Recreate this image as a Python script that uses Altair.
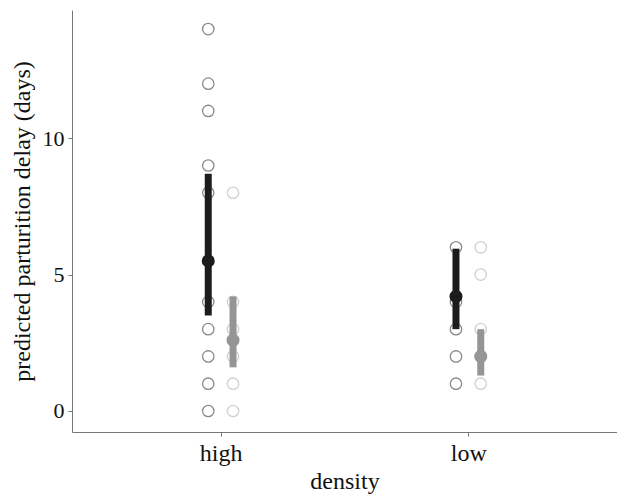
import altair as alt
import pandas as pd

# raw observations
high_black = [14, 12, 11, 9, 8, 4, 3, 2, 1, 0]
high_gray = [8, 4, 3, 2, 1, 0]
low_black = [6, 4, 3, 2, 1]
low_gray = [6, 5, 3, 2, 1]

# model predictions (mean, lower, upper)
densities = ["high", "low"]
series = ["black", "gray"]
pred_mean = {"high": [5.5, 2.6], "low": [4.2, 2.0]}
pred_lo = {"high": [3.5, 1.6], "low": [3.0, 1.3]}
pred_hi = {"high": [8.7, 4.2], "low": [5.95, 3.0]}

pos = {"high": 1, "low": 2}
off = {"black": -0.05, "gray": 0.05}

rows = []
for d, s, vals in [("high", "black", high_black), ("high", "gray", high_gray),
                   ("low", "black", low_black), ("low", "gray", low_gray)]:
    for v in vals:
        rows.append({"density": d, "series": s, "value": v})
pts = pd.DataFrame(rows)
pts["x"] = pts["density"].map(pos) + pts["series"].map(off)

prow = []
for d in densities:
    for i, s in enumerate(series):
        prow.append({"density": d, "series": s, "mean": pred_mean[d][i],
                     "lo": pred_lo[d][i], "hi": pred_hi[d][i]})
pred = pd.DataFrame(prow)
pred["x"] = pred["density"].map(pos) + pred["series"].map(off)

FONT = "Times New Roman, Liberation Serif, serif"

xscale = alt.Scale(domain=[0.4, 2.6])
yscale = alt.Scale(domain=[-0.77, 14.7], nice=False, zero=False)
pt_color = alt.Scale(domain=["black", "gray"], range=["#5a5a5a", "#bdbdbd"])
bar_color = alt.Scale(domain=["black", "gray"], range=["#1c1c1c", "#959595"])

xaxis = alt.Axis(values=[1, 2], labelExpr="datum.value == 1 ? 'high' : 'low'",
                 title="density", grid=False, tickColor="#777", domainColor="#777",
                 labelFontSize=24, titleFontSize=24, labelColor="#111", titleColor="#111",
                 labelFont=FONT, titleFont=FONT,
                 titleFontWeight="normal", tickSize=4, labelPadding=5, titlePadding=4)
yaxis = alt.Axis(values=[0, 5, 10], title="predicted parturition delay (days)", grid=False,
                 tickColor="#777", domainColor="#777", labelFontSize=22, titleFontSize=24,
                 labelColor="#111", titleColor="#111", labelFont=FONT,
                 titleFont=FONT, titleFontWeight="normal", tickSize=4,
                 labelPadding=4, titlePadding=8)

points = alt.Chart(pts).mark_point(shape="circle", filled=False, size=130, strokeWidth=1.3).encode(
    x=alt.X("x:Q", scale=xscale, axis=xaxis),
    y=alt.Y("value:Q", scale=yscale, axis=yaxis),
    color=alt.Color("series:N", scale=pt_color, legend=None),
)

bars = alt.Chart(pred).mark_rule(strokeWidth=7).encode(
    x="x:Q",
    y="lo:Q",
    y2="hi:Q",
    color=alt.Color("series:N", scale=bar_color, legend=None),
)

means = alt.Chart(pred).mark_point(shape="circle", filled=True, size=170, opacity=1).encode(
    x="x:Q",
    y="mean:Q",
    color=alt.Color("series:N", scale=bar_color, legend=None),
)

chart = alt.layer(points, bars, means).resolve_scale(color="independent").properties(
    width=545, height=422,
    autosize=alt.AutoSizeParams(type="none"),
    padding={"left": 72, "top": 10, "right": 0, "bottom": 63},
    background="white",
).configure(font=FONT).configure_view(stroke=None, strokeWidth=0)

chart.save("out.html", embed_options={"renderer": "svg", "actions": False})
